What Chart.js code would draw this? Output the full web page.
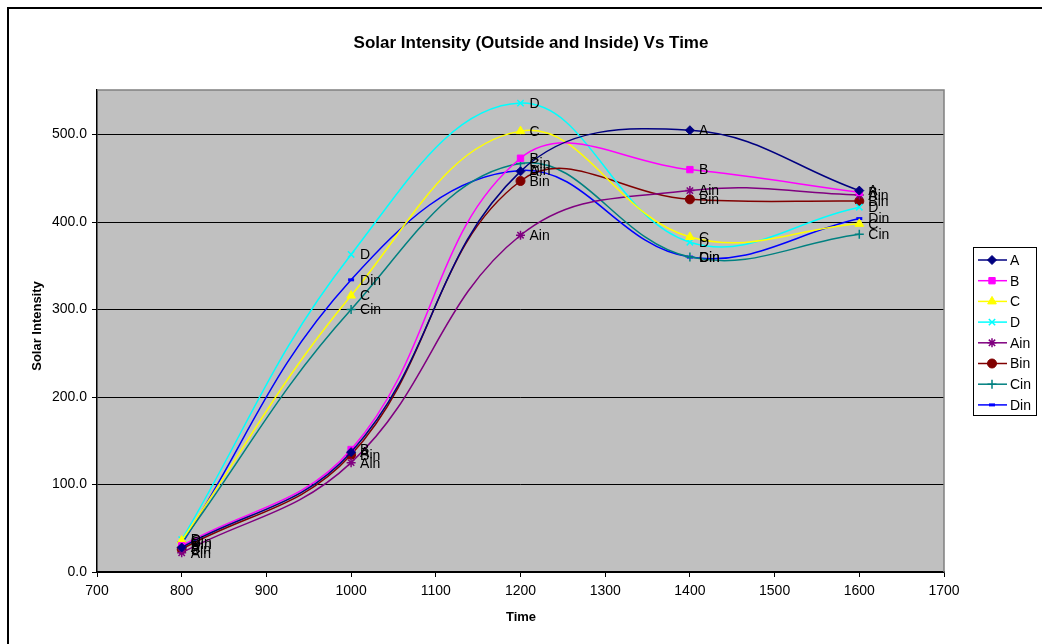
<!DOCTYPE html>
<html>
<head>
<meta charset="utf-8">
<script src="https://cdn.jsdelivr.net/npm/chart.js@4/dist/chart.umd.min.js"></script>
<style>
  html, body { margin: 0; padding: 0; background: #fff; }
  #wrap { width: 1042px; height: 644px; position: relative; }
</style>
</head>
<body>
<div id="wrap"><canvas id="myChart" width="1042" height="644"></canvas></div>
<script>
// data
var times = [800, 1000, 1200, 1400, 1600];
var seriesNames = ['A', 'B', 'C', 'D', 'Ain', 'Bin', 'Cin', 'Din'];
var valA   = [28, 137, 458, 505, 436];
var valB   = [30, 140, 473, 460, 434];
var valC   = [36, 316, 504, 383, 398];
var valD   = [37, 363, 536, 377, 417];
var valAin = [22, 125, 385, 436, 431];
var valBin = [26, 134, 447, 426, 424];
var valCin = [34, 300, 467, 360, 386];
var valDin = [32, 334, 459, 360, 404];
var yTicks = [0, 100, 200, 300, 400, 500];

var seriesValues = [valA, valB, valC, valD, valAin, valBin, valCin, valDin];
var colors = ['#000080', '#FF00FF', '#FFFF00', '#00FFFF', '#800080', '#800000', '#008080', '#0000FF'];
var styles = ['rectRot', 'rect', 'triangle', 'crossRot', 'star', 'circle', 'cross', 'line'];
var radii  = [4.5, 4.5, 5, 4.5, 4.5, 4.5, 4.5, 3];
var pbw    = [1, 1, 1, 1.5, 1.5, 1, 1.5, 3];

var FONT = '"Liberation Sans", Arial, sans-serif';

var datasets = seriesNames.map(function (name, i) {
    return {
        label: name,
        data: seriesValues[i].map(function (v, j) { return { x: times[j], y: v }; }),
        borderColor: colors[i],
        backgroundColor: colors[i],
        pointBackgroundColor: colors[i],
        pointBorderColor: colors[i],
        pointStyle: styles[i],
        pointRadius: radii[i],
        pointBorderWidth: pbw[i],
        borderWidth: 1.5,
        tension: 0.4,
        fill: false
    };
});

// grey plot area + frame + titles + outer border
var decor = {
    id: 'decor',
    beforeDraw: function (chart) {
        var ctx = chart.ctx, a = chart.chartArea;
        ctx.save();
        ctx.fillStyle = '#fff';
        ctx.fillRect(0, 0, chart.width, chart.height);
        ctx.fillStyle = '#C0C0C0';
        ctx.fillRect(a.left, a.top, a.right - a.left, a.bottom - a.top);
        ctx.restore();
    },
    afterDraw: function (chart) {
        var ctx = chart.ctx, a = chart.chartArea;
        ctx.save();
        // top and right frame of plot area
        ctx.strokeStyle = '#808080';
        ctx.lineWidth = 1.5;
        ctx.beginPath();
        ctx.moveTo(a.left, a.top);
        ctx.lineTo(a.right, a.top);
        ctx.lineTo(a.right, a.bottom);
        ctx.stroke();

        // outer border
        ctx.fillStyle = '#000';
        ctx.fillRect(7, 7, 2, chart.height);
        ctx.fillRect(7, 7, chart.width, 2);

        // titles
        ctx.fillStyle = '#000';
        ctx.textAlign = 'center';
        ctx.textBaseline = 'middle';
        ctx.font = 'bold 17px ' + FONT;
        ctx.fillText('Solar Intensity (Outside and Inside) Vs Time', 531, 43);
        ctx.font = 'bold 13px ' + FONT;
        ctx.fillText('Time', 521, 617);
        ctx.translate(37, 326);
        ctx.rotate(-Math.PI / 2);
        ctx.fillText('Solar Intensity', 0, 0);
        ctx.restore();

        // legend box
        ctx.save();
        ctx.strokeStyle = '#000';
        ctx.lineWidth = 1;
        ctx.strokeRect(973.5, 247.5, 63, 168);
        ctx.font = '14px ' + FONT;
        ctx.textAlign = 'left';
        ctx.textBaseline = 'middle';
        chart.data.datasets.forEach(function (ds, i) {
            var y = 260 + i * 20.7;
            ctx.strokeStyle = ds.borderColor;
            ctx.fillStyle = ds.borderColor;
            ctx.lineWidth = 1.5;
            ctx.beginPath();
            ctx.moveTo(978, y);
            ctx.lineTo(1007, y);
            ctx.stroke();
            ctx.lineWidth = ds.pointBorderWidth;
            Chart.helpers.drawPoint(ctx, {
                pointStyle: ds.pointStyle,
                radius: ds.pointRadius,
                rotation: 0,
                borderWidth: ds.pointBorderWidth
            }, 992, y);
            ctx.fillStyle = '#000';
            ctx.fillText(ds.label, 1010, y + 1);
        });
        ctx.restore();
    }
};

// series name next to each point
var pointLabels = {
    id: 'pointLabels',
    afterDatasetsDraw: function (chart) {
        var ctx = chart.ctx;
        ctx.save();
        ctx.font = '14px ' + FONT;
        ctx.fillStyle = '#000';
        ctx.textAlign = 'left';
        ctx.textBaseline = 'middle';
        chart.data.datasets.forEach(function (ds, i) {
            var meta = chart.getDatasetMeta(i);
            meta.data.forEach(function (pt) {
                ctx.fillText(ds.label, pt.x + 9, pt.y + 1);
            });
        });
        ctx.restore();
    }
};

var ctx = document.getElementById('myChart').getContext('2d');
var myChart = new Chart(ctx, {
    type: 'line',
    data: { datasets: datasets },
    plugins: [decor, pointLabels],
    options: {
        responsive: false,
        animation: false,
        devicePixelRatio: 1,
        layout: { padding: { left: 0, top: 90, right: 98, bottom: 0 }, autoPadding: false },
        plugins: {
            legend: { display: false },
            title: { display: false },
            tooltip: { enabled: false }
        },
        scales: {
            x: {
                type: 'linear',
                min: 700,
                max: 1700,
                afterFit: function (s) { s.height = 72; },
                ticks: {
                    stepSize: 100,
                    color: '#000',
                    font: { family: FONT, size: 14 },
                    padding: 6,
                    maxRotation: 0,
                    callback: function (v) { return String(v); }
                },
                grid: {
                    drawOnChartArea: false,
                    drawTicks: true,
                    tickLength: 5,
                    color: '#000'
                },
                border: { color: '#000', width: 1.5 }
            },
            y: {
                min: 0,
                max: 551,
                afterFit: function (s) { s.width = 97; },
                afterBuildTicks: function (s) {
                    s.ticks = yTicks.map(function (v) { return { value: v }; });
                },
                ticks: {
                    color: '#000',
                    font: { family: FONT, size: 14 },
                    padding: 5,
                    callback: function (v) { return Number(v).toFixed(1); }
                },
                grid: {
                    color: '#000',
                    lineWidth: 1,
                    tickLength: 5
                },
                border: { color: '#000', width: 1.5 }
            }
        }
    }
});
</script>
</body>
</html>
